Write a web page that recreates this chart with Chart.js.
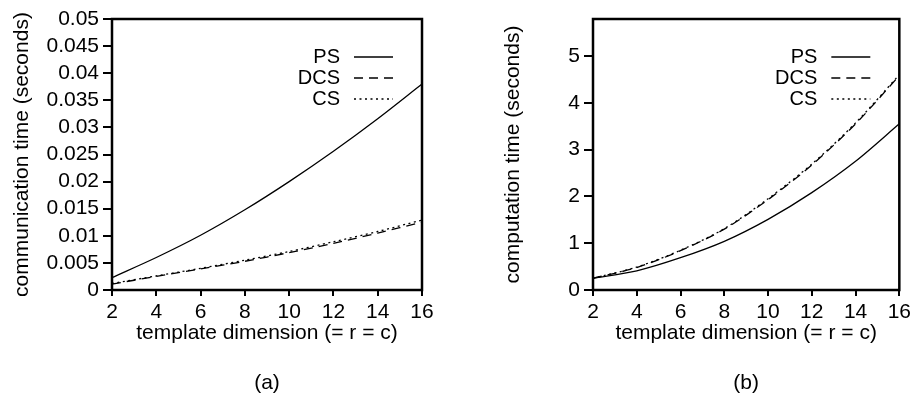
<!DOCTYPE html>
<html>
<head>
<meta charset="utf-8">
<script src="https://cdn.jsdelivr.net/npm/chart.js@4"></script>
<style>
  body { margin: 0; background: #fff; }
  #wrapA { position: absolute; left: 0; top: 0; }
  #wrapB { position: absolute; left: 450px; top: 0; }
</style>
</head>
<body>
<div id="wrapA"><canvas id="chartA" width="440" height="396"></canvas></div>
<div id="wrapB"><canvas id="chartB" width="465" height="396"></canvas></div>
<script>
// template dimension (r = c)
var dims = ["2", "4", "6", "8", "10", "12", "14", "16"];

// (a) communication time, seconds
var commPS  = [0.0023, 0.0060, 0.0101, 0.0148, 0.0200, 0.0256, 0.0316, 0.0380];
var commDCS = [0.0011, 0.0025, 0.0039, 0.0053, 0.0069, 0.0086, 0.0105, 0.0125];
var commCS  = [0.0012, 0.0026, 0.0040, 0.0055, 0.0071, 0.0089, 0.0108, 0.0129];

// (b) computation time, seconds
var compPS  = [0.25, 0.41, 0.69, 1.04, 1.51, 2.08, 2.75, 3.55];
var compDCS = [0.25, 0.48, 0.84, 1.30, 1.93, 2.67, 3.55, 4.58];
var compCS  = [0.25, 0.49, 0.85, 1.31, 1.95, 2.69, 3.57, 4.60];

var FONT = "'Liberation Sans', Arial, sans-serif";

// box around the plot + gnuplot style key (text left, sample right)
var framePlugin = {
    id: "frame",
    afterDraw: function (chart) {
        var a = chart.chartArea;
        var ctx = chart.ctx;
        ctx.save();
        ctx.strokeStyle = "#000";
        ctx.lineWidth = 2.5;
        ctx.strokeRect(a.left, a.top, a.right - a.left, a.bottom - a.top);

        ctx.font = "20px " + FONT;
        ctx.textAlign = "right";
        ctx.textBaseline = "middle";
        ctx.fillStyle = "#000";
        chart.data.datasets.forEach(function (ds, i) {
            var y = a.top + 38 + i * 21;
            ctx.fillText(ds.label, a.right - 82, y);
            ctx.lineWidth = 1.3;
            ctx.setLineDash(ds.borderDash || []);
            ctx.beginPath();
            ctx.moveTo(a.right - 68, y);
            ctx.lineTo(a.right - 29, y);
            ctx.stroke();
            ctx.setLineDash([]);
        });
        ctx.restore();
    }
};

function series(label, data, dash) {
    return {
        label: label,
        data: data,
        borderColor: "#000",
        borderWidth: 1.3,
        borderDash: dash,
        pointRadius: 0,
        tension: 0.3,
        fill: false
    };
}

function makeChart(id, sets, yTitle, yMax, yStep, caption, pad, yWidth) {
    var ctx = document.getElementById(id).getContext("2d");
    return new Chart(ctx, {
        type: "line",
        data: { labels: dims, datasets: sets },
        plugins: [framePlugin],
        options: {
            responsive: false,
            animation: false,
            devicePixelRatio: 1,
            layout: { padding: pad },
            plugins: { legend: { display: false }, tooltip: { enabled: false } },
            scales: {
                x: {
                    type: "category",
                    offset: false,
                    border: { display: false },
                    grid: { drawOnChartArea: false, color: "#000", lineWidth: 2, tickLength: 6 },
                    ticks: { color: "#000", font: { family: FONT, size: 21 }, padding: 4, maxRotation: 0, autoSkip: false },
                    title: {
                        display: true,
                        text: ["template dimension (= r = c)", "", caption],
                        color: "#000",
                        font: { family: FONT, size: 21, lineHeight: 1.2 },
                        padding: 0
                    },
                    afterFit: function (s) { s.height = 106; }
                },
                y: {
                    min: 0,
                    max: yMax,
                    border: { display: false },
                    grid: { drawOnChartArea: false, color: "#000", lineWidth: 2, tickLength: 9 },
                    ticks: {
                        stepSize: yStep,
                        includeBounds: false,
                        autoSkip: false,
                        color: "#000",
                        font: { family: FONT, size: 21 },
                        padding: 4,
                        callback: function (v) { return String(+v.toFixed(4)); }
                    },
                    title: {
                        display: true,
                        text: yTitle,
                        color: "#000",
                        font: { family: FONT, size: 21, lineHeight: 1.2 },
                        padding: 0
                    },
                    afterFit: function (s) { s.width = yWidth; }
                }
            }
        }
    });
}

makeChart("chartA",
    [series("PS", commPS, []), series("DCS", commDCS, [9, 6]), series("CS", commCS, [2, 3.5])],
    "communication time (seconds)", 0.05, 0.005, "(a)",
    { left: 10, right: 18, top: 19, bottom: 0 }, 102);

makeChart("chartB",
    [series("PS", compPS, []), series("DCS", compDCS, [9, 6]), series("CS", compCS, [2, 3.5])],
    "computation time (seconds)", 5.79, 1, "(b)",
    { left: 51, right: 13, top: 19, bottom: 0 }, 92);
</script>
</body>
</html>
